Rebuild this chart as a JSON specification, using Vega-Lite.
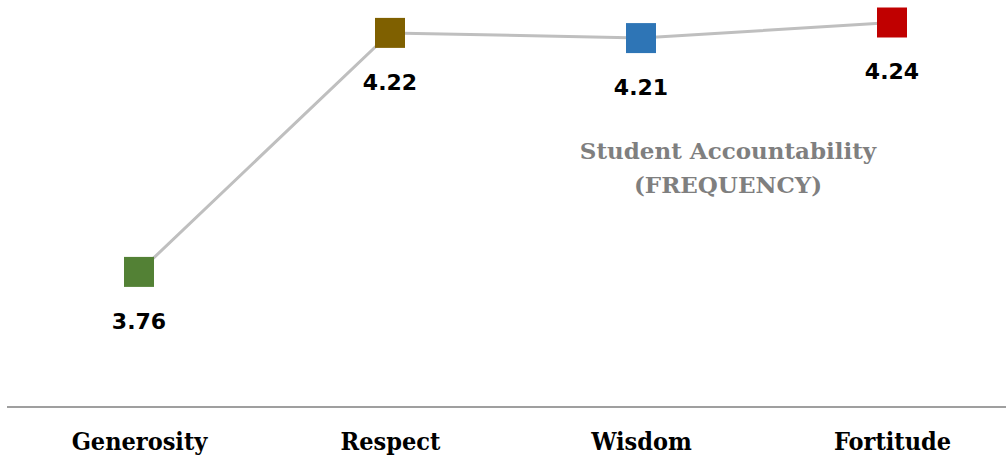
{
  "$schema": "https://vega.github.io/schema/vega-lite/v6.json",
  "width": 999,
  "height": 407,
  "padding": {"left": 7, "top": 0, "right": 0, "bottom": 52},
  "autosize": {"type": "none"},
  "background": "white",
  "config": {"view": {"stroke": null}},
  "data": {"values": [
    {"virtue": "Generosity", "score": 3.76, "color": "#538135"},
    {"virtue": "Respect", "score": 4.22, "color": "#7f6000"},
    {"virtue": "Wisdom", "score": 4.21, "color": "#2e75b6"},
    {"virtue": "Fortitude", "score": 4.24, "color": "#c00000"}
  ]},
  "encoding": {
    "x": {"field": "virtue", "type": "nominal", "sort": null,
      "scale": {"type": "point", "range": [132, 885], "padding": 0},
      "axis": {"title": null, "domain": false, "ticks": false, "labelAngle": 0,
        "labelFont": "DejaVu Serif Condensed", "labelFontWeight": "bold", "labelFontSize": 25,
        "labelColor": "#000000", "labelPadding": 22}},
    "y": {"field": "score", "type": "quantitative",
      "scale": {"domain": [3.5, 4.2833], "nice": false, "zero": false},
      "axis": null}
  },
  "layer": [
    {"mark": {"type": "rule", "color": "#7f7f7f", "strokeWidth": 1.5},
     "data": {"values": [{"base": 3.5}]},
     "encoding": {"x": null, "y": {"field": "base", "type": "quantitative"}}},
    {"mark": {"type": "line", "color": "#bfbfbf", "strokeWidth": 3}},
    {"mark": {"type": "square", "size": 900, "opacity": 1, "filled": true},
     "encoding": {"color": {"field": "color", "type": "nominal", "scale": null}}},
    {"mark": {"type": "text", "dy": 50, "font": "DejaVu Sans", "fontWeight": "bold", "fontSize": 22, "color": "#000000"},
     "encoding": {"text": {"field": "score", "type": "quantitative", "format": ".2f"}}},
    {"mark": {"type": "text", "font": "DejaVu Serif", "fontWeight": "bold", "fontSize": 23, "color": "#7f7f7f", "lineBreak": "\n", "lineHeight": 34, "dx": 87, "align": "center", "baseline": "middle"},
     "data": {"values": [{"virtue": "Wisdom", "score": 3.99, "label": "Student Accountability\n(FREQUENCY)"}]},
     "encoding": {"text": {"field": "label"}}}
  ]
}
